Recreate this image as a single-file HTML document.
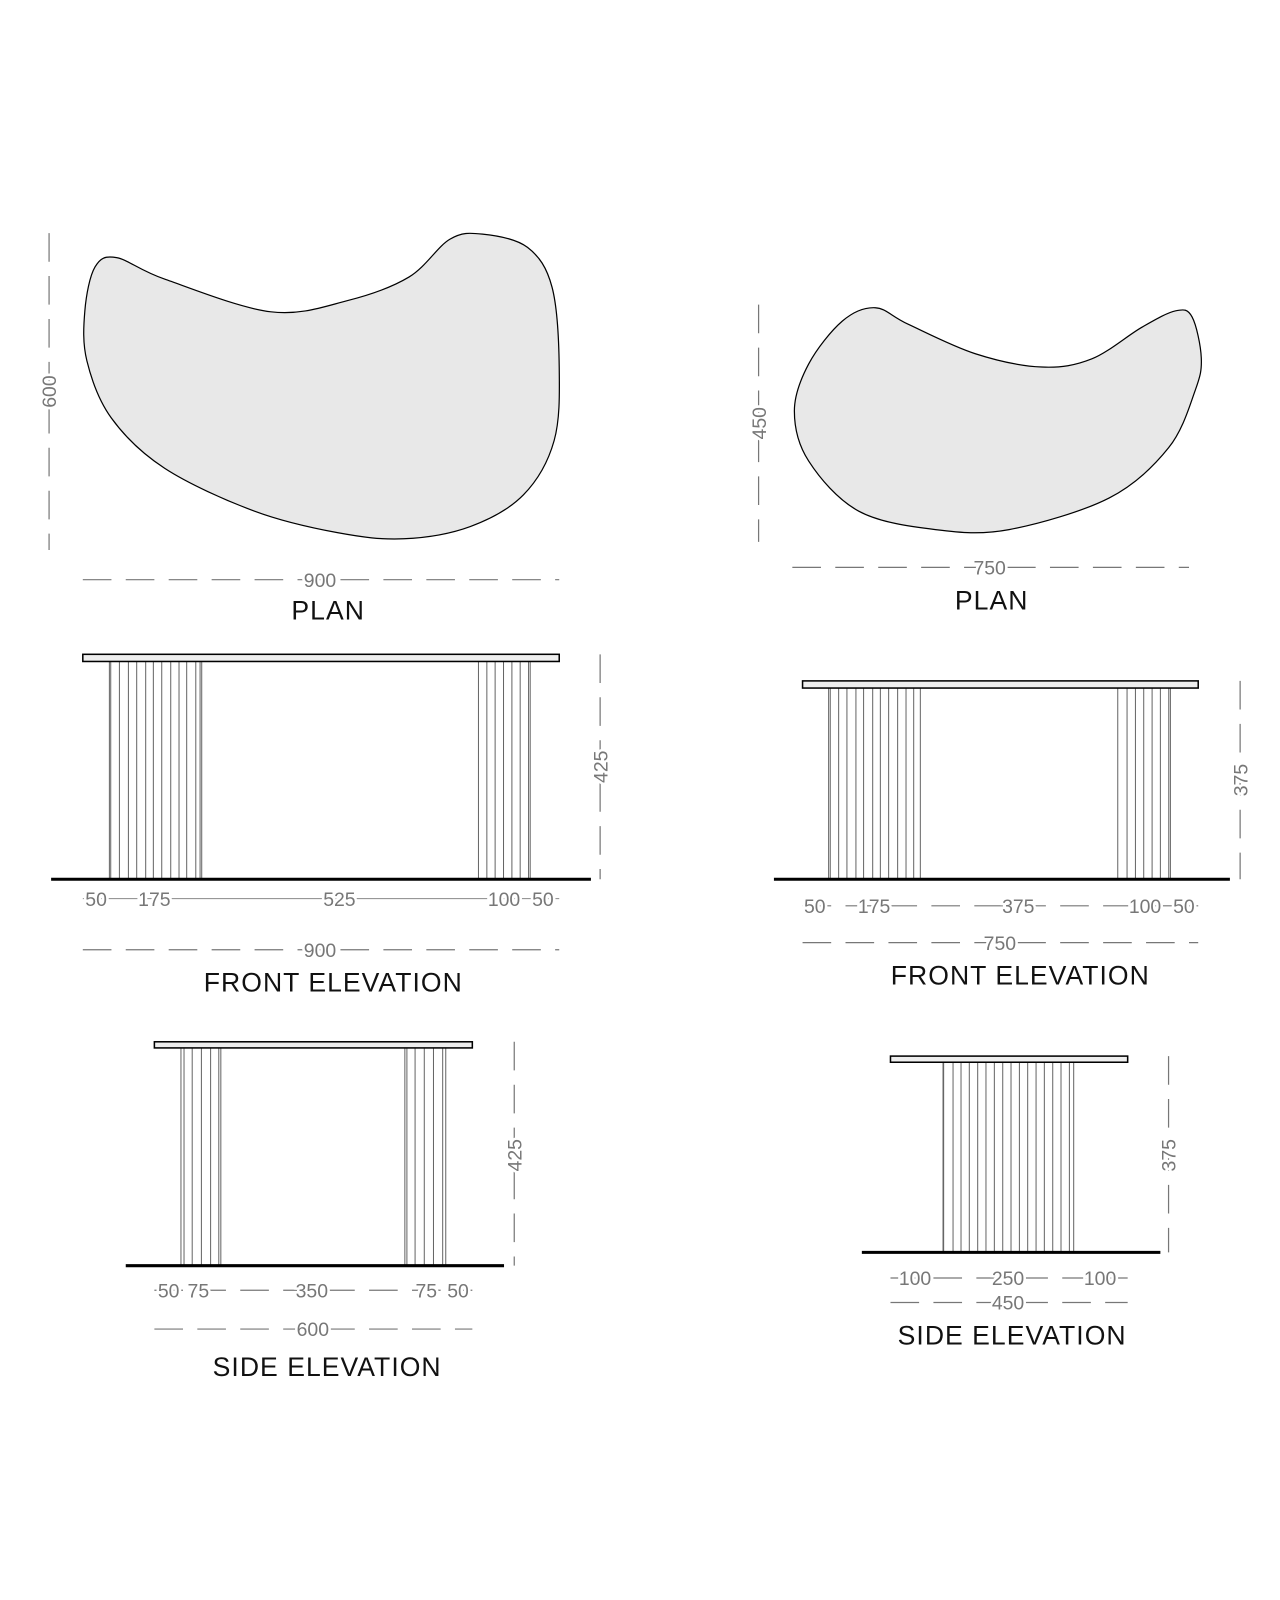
<!DOCTYPE html>
<html><head><meta charset="utf-8"><style>
html,body{margin:0;padding:0;background:#fff;}
svg{display:block;}
text{font-family:"Liberation Sans",sans-serif;}
.d{fill:#777;font-size:19px;text-anchor:middle;paint-order:stroke;stroke:#fff;stroke-width:5px;}
.t{fill:#111;font-size:26px;text-anchor:middle;letter-spacing:1px;}
.dash{stroke:#777;stroke-width:1.2;stroke-dasharray:28 14;fill:none;}
.sol{stroke:#888;stroke-width:1;fill:none;}
.leg{stroke:#666;stroke-width:1;}
.slab{fill:#eee;stroke:#000;stroke-width:1.5;}
.gnd{stroke:#000;stroke-width:3;}
.blob{fill:#e8e8e8;stroke:#000;stroke-width:1.2;}
</style></head><body>
<svg id="s" width="1280" height="1600" viewBox="0 0 1252 1565" xmlns="http://www.w3.org/2000/svg">
<path id="b1" class="blob" d=""/>
<path id="b2" class="blob" d=""/>
<line class="dash" x1="48" y1="228" x2="48" y2="538"/>
<text class="d" transform="translate(55,383) rotate(-90)">600</text>
<line class="dash" x1="81" y1="567" x2="547" y2="567"/>
<text class="d" x="313" y="574">900</text>
<text class="t" x="321" y="606">PLAN</text>
<line class="dash" x1="742" y1="298" x2="742" y2="530"/>
<text class="d" transform="translate(749,414) rotate(-90)">450</text>
<line class="dash" x1="775" y1="555" x2="1163" y2="555"/>
<text class="d" x="968" y="562">750</text>
<text class="t" x="970" y="596">PLAN</text>
<g id="lf"></g>
<rect class="slab" x="81" y="640" width="466" height="7"/>
<line class="gnd" x1="50" y1="860" x2="578" y2="860"/>
<line class="dash" x1="587" y1="640" x2="587" y2="860"/>
<text class="d" transform="translate(594,750) rotate(-90)">425</text>
<line class="sol" x1="81" y1="879" x2="547" y2="879"/>
<text class="d" x="94" y="886">50</text>
<text class="d" x="151" y="886">175</text>
<text class="d" x="332" y="886">525</text>
<text class="d" x="493" y="886">100</text>
<text class="d" x="531" y="886">50</text>
<line class="dash" x1="81" y1="929" x2="547" y2="929"/>
<text class="d" x="313" y="936">900</text>
<text class="t" x="326" y="970">FRONT ELEVATION</text>
<g id="rf"></g>
<rect class="slab" x="785" y="666" width="387" height="7"/>
<line class="gnd" x1="757" y1="860" x2="1203" y2="860"/>
<line class="dash" x1="1213" y1="666" x2="1213" y2="860"/>
<text class="d" transform="translate(1220,763) rotate(-90)">375</text>
<line class="dash" x1="785" y1="886" x2="1172" y2="886"/>
<text class="d" x="797" y="893">50</text>
<text class="d" x="855" y="893">175</text>
<text class="d" x="996" y="893">375</text>
<text class="d" x="1120" y="893">100</text>
<text class="d" x="1158" y="893">50</text>
<line class="dash" x1="785" y1="922" x2="1172" y2="922"/>
<text class="d" x="978" y="929">750</text>
<text class="t" x="998" y="963">FRONT ELEVATION</text>
<g id="ls"></g>
<rect class="slab" x="151" y="1019" width="311" height="6"/>
<line class="gnd" x1="123" y1="1238" x2="493" y2="1238"/>
<line class="dash" x1="503" y1="1019" x2="503" y2="1238"/>
<text class="d" transform="translate(510,1130) rotate(-90)">425</text>
<line class="dash" x1="151" y1="1262" x2="462" y2="1262"/>
<text class="d" x="165" y="1269">50</text>
<text class="d" x="194" y="1269">75</text>
<text class="d" x="305" y="1269">350</text>
<text class="d" x="417" y="1269">75</text>
<text class="d" x="448" y="1269">50</text>
<line class="dash" x1="151" y1="1300" x2="462" y2="1300"/>
<text class="d" x="306" y="1307">600</text>
<text class="t" x="320" y="1346">SIDE ELEVATION</text>
<g id="rs"></g>
<rect class="slab" x="871" y="1033" width="232" height="6"/>
<line class="gnd" x1="843" y1="1225" x2="1135" y2="1225"/>
<line class="dash" x1="1143" y1="1033" x2="1143" y2="1225"/>
<text class="d" transform="translate(1150,1130) rotate(-90)">375</text>
<line class="dash" x1="871" y1="1250" x2="1103" y2="1250"/>
<text class="d" x="895" y="1257">100</text>
<text class="d" x="986" y="1257">250</text>
<text class="d" x="1076" y="1257">100</text>
<line class="dash" x1="871" y1="1274" x2="1103" y2="1274"/>
<text class="d" x="986" y="1281">450</text>
<text class="t" x="990" y="1315">SIDE ELEVATION</text>
</svg>
<script>
function cr(p){var n=p.length,d="M"+p[0][0]+","+p[0][1];
for(var i=0;i<n;i++){var p0=p[(i-1+n)%n],p1=p[i],p2=p[(i+1)%n],p3=p[(i+2)%n];
d+=" C"+(p1[0]+(p2[0]-p0[0])/6).toFixed(1)+","+(p1[1]+(p2[1]-p0[1])/6).toFixed(1)+" "+(p2[0]-(p3[0]-p1[0])/6).toFixed(1)+","+(p2[1]-(p3[1]-p1[1])/6).toFixed(1)+" "+p2[0]+","+p2[1];}
return d+"Z";}
document.getElementById("b1").setAttribute("d",cr([[114,252],[161,273],[265,305],[340,294],[400,271],[440,234],[472,229],[516,242],[540,281],[547,360],[542,431],[512,484],[460,515],[395,527],[330,521],[249,500],[161,458],[109,409],[85,353],[83,304],[93,261]]));
document.getElementById("b2").setAttribute("d",cr([[856,301],[888,317],[954,346],[1019,359],[1068,351],[1117,320],[1150,304],[1166,310],[1175,350],[1169,382],[1143,438],[1085,487],[987,518],[915,518],[840,500],[791,451],[777,402],[791,356],[824,314]]));
var NS="http://www.w3.org/2000/svg";
function legs(id,xs,y1,y2){var g=document.getElementById(id);xs.forEach(function(x){var l=document.createElementNS(NS,"line");l.setAttribute("class","leg");l.setAttribute("x1",x);l.setAttribute("x2",x);l.setAttribute("y1",y1);l.setAttribute("y2",y2);g.appendChild(l);});}
function m(off,arr){return arr.map(function(z){return ((off+z/3)/1.022).toFixed(1);});}
legs("lf",m(60,[148,152,178,205,230,257,280,305,332,357,380,407,420,425,1255,1280,1305,1330,1355,1380,1405,1410]),647,860);
legs("rf",m(760,[205,210,235,260,287,310,337,360,385,412,437,460,480,1072,1100,1125,1150,1175,1200,1225,1230]),673,860);
legs("ls",[177,180,188,197,206,214,216,396,398,406,415,424,433,436],1025,1238);
legs("rs",m(830,[338,340,368,392,417,442,467,492,517,542,567,592,617,642,667,692,717,730]),1039,1225);
</script>
</body></html>
